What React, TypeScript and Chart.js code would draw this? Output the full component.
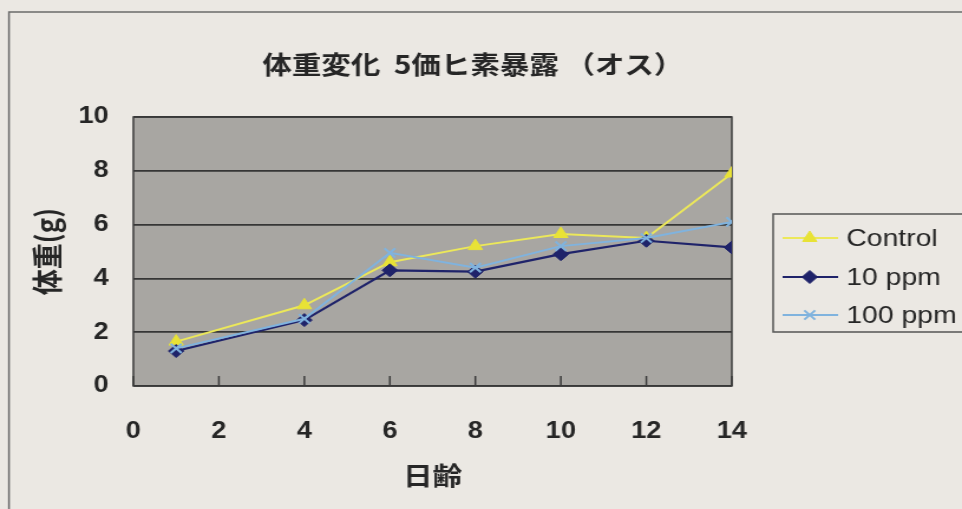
import { useEffect, useRef } from "react";
import { Chart, registerables } from "chart.js";
import { drawPoint } from "chart.js/helpers";

Chart.register(...registerables);

// Body weight by age (days) for each exposure group
const days = [1, 4, 6, 8, 10, 12, 14];
const controlGrams = [1.65, 3.0, 4.6, 5.2, 5.65, 5.5, 7.9];
const ppm10Grams = [1.3, 2.45, 4.3, 4.25, 4.9, 5.4, 5.15];
const ppm100Grams = [1.4, 2.5, 4.95, 4.4, 5.2, 5.5, 6.1];
const seriesLabels = ["Control", "10 ppm", "100 ppm"];

// Axis ranges and tick steps
const xRange = [0, 14];
const xStep = 2;
const yRange = [0, 10];
const yStep = 2;

const titleText = "体重変化  5価ヒ素暴露 （オス）";
const xTitleText = "日齢";
const yTitleText = "体重(g)";

// The chart is laid out on a narrower canvas and widened with CSS,
// so the type and marks come out horizontally stretched.
const CANVAS_W = 815;
const CANVAS_H = 509;
const DISPLAY_W = 962;

const INK = "#262626";
const CJK = '"Noto Sans CJK JP", "Noto Sans", sans-serif';
const LATIN = '"Liberation Sans", Arial, sans-serif';

const framePlugin = {
  id: "frame",
  beforeDraw(chart: any) {
    const { ctx, width, height, chartArea: a } = chart;
    ctx.save();
    ctx.fillStyle = "#ebe8e3";
    ctx.fillRect(0, 0, width, height);
    ctx.fillStyle = "#a8a6a2";
    ctx.fillRect(a.left, a.top, a.right - a.left, a.bottom - a.top);
    // outer chart frame
    ctx.strokeStyle = "#6b6b6b";
    ctx.lineWidth = 1.5;
    ctx.beginPath();
    ctx.moveTo(7.6, height);
    ctx.lineTo(7.6, 12);
    ctx.lineTo(width, 12);
    ctx.stroke();
    ctx.restore();
  },
  beforeDatasetsDraw(chart: any) {
    const { ctx, chartArea: a, scales } = chart;
    const xs = scales.x;
    ctx.save();
    ctx.strokeStyle = "#3a3a3a";
    ctx.lineWidth = 1.5;
    ctx.strokeRect(a.left, a.top, a.right - a.left, a.bottom - a.top);
    // inward tick marks along the bottom axis
    ctx.beginPath();
    xs.ticks.forEach((t: any) => {
      const px = xs.getPixelForValue(t.value);
      ctx.moveTo(px, a.bottom);
      ctx.lineTo(px, a.bottom - 10);
    });
    ctx.stroke();
    ctx.restore();
  },
};

const headerPlugin = {
  id: "header",
  afterDraw(chart: any) {
    const { ctx } = chart;
    ctx.save();
    ctx.fillStyle = INK;
    ctx.font = `bold 25px ${CJK}`;
    ctx.textAlign = "center";
    ctx.textBaseline = "middle";
    ctx.fillText(titleText, 400.7, 64);
    ctx.restore();
  },
};

const keyPlugin = {
  id: "key",
  afterDraw(chart: any) {
    const { ctx, width } = chart;
    const boxLeft = 655;
    const boxTop = 214;
    const boxBottom = 332;
    const rows = [238, 277, 315];
    ctx.save();
    ctx.strokeStyle = "#555555";
    ctx.lineWidth = 1.5;
    ctx.strokeRect(boxLeft, boxTop, width - boxLeft + 4, boxBottom - boxTop);
    chart.data.datasets.forEach((ds: any, i: number) => {
      const y = rows[i];
      ctx.strokeStyle = ds.borderColor;
      ctx.lineWidth = ds.borderWidth;
      ctx.beginPath();
      ctx.moveTo(663, y);
      ctx.lineTo(710, y);
      ctx.stroke();
      ctx.fillStyle = ds.pointBackgroundColor;
      ctx.strokeStyle = ds.pointBorderColor;
      ctx.lineWidth = ds.pointBorderWidth;
      drawPoint(ctx, { pointStyle: ds.pointStyle, radius: ds.pointRadius, rotation: 0, borderWidth: ds.pointBorderWidth }, 686, y);
      ctx.fillStyle = INK;
      ctx.font = `24px ${LATIN}`;
      ctx.textAlign = "left";
      ctx.textBaseline = "middle";
      ctx.fillText(ds.label, 717, y + 1);
    });
    ctx.restore();
  },
};

const toPoints = (ys: number[]) => days.map((d, i) => ({ x: d, y: ys[i] }));

export default function App() {
  const canvasRef = useRef<HTMLCanvasElement | null>(null);

  useEffect(() => {
    const canvas = canvasRef.current;
    if (!canvas) return;
    const chart = new Chart(canvas, {
      type: "line",
      data: {
        datasets: [
          {
            label: seriesLabels[0],
            data: toPoints(controlGrams),
            borderColor: "#ece85a",
            backgroundColor: "#e8e236",
            pointBackgroundColor: "#e8e236",
            pointBorderColor: "#e8e236",
            pointBorderWidth: 1,
            pointStyle: "triangle",
            pointRadius: 7,
            borderWidth: 2,
            order: 2,
          },
          {
            label: seriesLabels[1],
            data: toPoints(ppm10Grams),
            borderColor: "#1f236a",
            backgroundColor: "#1f236a",
            pointBackgroundColor: "#1f236a",
            pointBorderColor: "#1f236a",
            pointBorderWidth: 1,
            pointStyle: "rectRot",
            pointRadius: 6.5,
            borderWidth: 2.2,
            order: 1,
          },
          {
            label: seriesLabels[2],
            data: toPoints(ppm100Grams),
            borderColor: "#80b3de",
            backgroundColor: "#80b3de",
            pointBackgroundColor: "#80b3de",
            pointBorderColor: "#80b3de",
            pointBorderWidth: 2,
            pointStyle: "crossRot",
            pointRadius: 6.5,
            borderWidth: 2,
            order: 0,
          },
        ],
      },
      options: {
        responsive: false,
        animation: false,
        events: [],
        layout: { padding: { top: 117, right: 195, left: 0, bottom: 0 } },
        plugins: {
          legend: { display: false },
          title: { display: false },
          tooltip: { enabled: false },
        },
        elements: { line: { tension: 0 } },
        scales: {
          x: {
            type: "linear",
            min: xRange[0],
            max: xRange[1],
            ticks: {
              stepSize: xStep,
              padding: 32,
              color: INK,
              font: { family: LATIN, size: 23, weight: "bold" },
              maxRotation: 0,
              autoSkip: false,
            },
            grid: { display: false, drawTicks: false },
            border: { display: false },
            title: {
              display: true,
              text: xTitleText,
              color: INK,
              font: { family: CJK, size: 25, weight: "bold" },
              padding: { top: 0, bottom: 19 },
            },
            afterFit: (s: any) => {
              s.height = 123;
            },
          },
          y: {
            min: yRange[0],
            max: yRange[1],
            ticks: {
              stepSize: yStep,
              padding: 21,
              color: INK,
              font: { family: LATIN, size: 23, weight: "bold" },
            },
            grid: { color: "#363636", lineWidth: 1.7, drawTicks: false },
            border: { display: false },
            title: {
              display: true,
              text: yTitleText,
              color: INK,
              font: { family: CJK, size: 26, weight: "bold" },
              padding: { top: 25, bottom: 0 },
            },
            afterFit: (s: any) => {
              s.width = 113;
            },
          },
        },
      },
      plugins: [framePlugin, headerPlugin, keyPlugin],
    });
    return () => chart.destroy();
  }, []);

  return (
    <div style={{ position: "fixed", left: 0, top: 0, width: DISPLAY_W, height: CANVAS_H, background: "#ebe8e3" }}>
      <canvas
        ref={canvasRef}
        width={CANVAS_W}
        height={CANVAS_H}
        style={{ display: "block", width: `${DISPLAY_W}px`, height: `${CANVAS_H}px` }}
      />
    </div>
  );
}
